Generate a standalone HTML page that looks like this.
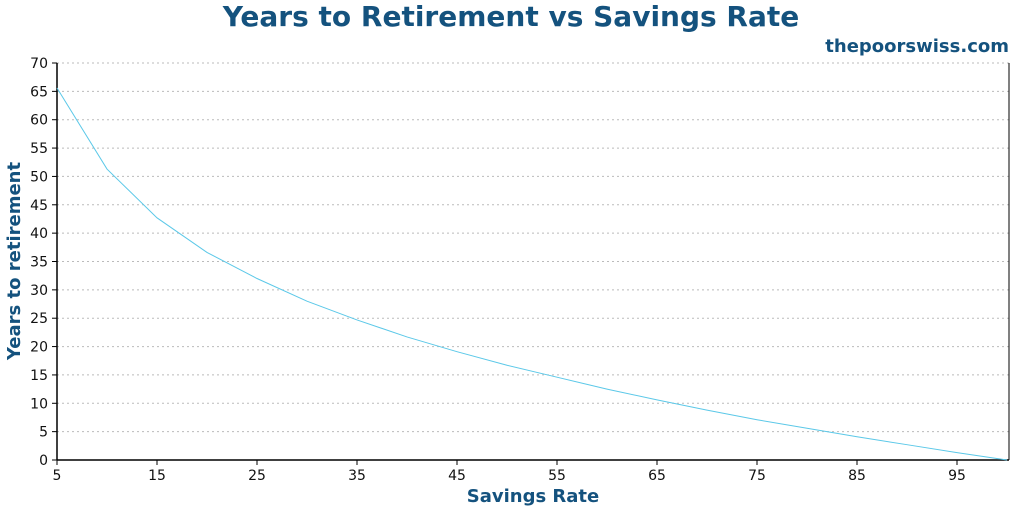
<!DOCTYPE html>
<html><head><meta charset="utf-8"><style>
body{margin:0;background:#fff;}
svg{display:block;font-family:"DejaVu Sans","Liberation Sans",sans-serif;}
</style></head><body>
<svg id="chart" width="1024" height="512">
<text x="511" y="26" text-anchor="middle" font-size="28" font-weight="bold" fill="#14527e">Years to Retirement vs Savings Rate</text>
<text x="1009" y="52" text-anchor="end" font-size="18" font-weight="bold" fill="#14527e">thepoorswiss.com</text>
<text x="533" y="502" text-anchor="middle" font-size="18" font-weight="bold" fill="#14527e">Savings Rate</text>
<text transform="translate(20,261) rotate(-90)" text-anchor="middle" font-size="18" font-weight="bold" fill="#14527e">Years to retirement</text>
<g id="grid"></g><g id="axes"></g><g id="series"></g>
</svg>
<script>
const rates=[5,10,15,20,25,30,35,40,45,50,55,60,65,70,75,80,85,90,95,100];
const years=[65.6,51.3,42.7,36.6,32,28,24.7,21.7,19.1,16.7,14.6,12.5,10.6,8.8,7.1,5.6,4.1,2.7,1.3,0];
const xTicks=[5,15,25,35,45,55,65,75,85,95];
const yTicks=[0,5,10,15,20,25,30,35,40,45,50,55,60,65,70];
const NS="http://www.w3.org/2000/svg";
const L=57,R=1007,T=63,B=460;
const xs=v=>L+(v-5)/95*(R-L);
const ys=v=>B-v/70*(B-T);
function mk(tag,attrs,parent){const e=document.createElementNS(NS,tag);for(const k in attrs)e.setAttribute(k,attrs[k]);parent.appendChild(e);return e;}
const grid=document.getElementById('grid'),axes=document.getElementById('axes'),series=document.getElementById('series');
yTicks.forEach(t=>{
 const y=ys(t);
 if(t>0){const g=mk('line',{x1:L,x2:1009,y1:y,y2:y,stroke:'#bbb','stroke-dasharray':'2,3'},grid);
 
 }
 const tk=mk('line',{x1:L-5,x2:L,y1:y,y2:y,stroke:'#000'},axes);
 
 
 const lb=mk('text',{x:L-9,y:y+5,'text-anchor':'end','font-size':14,fill:'#111'},axes);
 lb.textContent=t;
 
 
});
xTicks.forEach(t=>{
 const x=xs(t);
 const tk=mk('line',{x1:x,x2:x,y1:B,y2:B+5,stroke:'#000'},axes);
 
 
 const lb=mk('text',{x:x,y:B+20,'text-anchor':'middle','font-size':14,fill:'#111'},axes);
 lb.textContent=t;
 
 
});
const ya=mk('line',{x1:L,x2:L,y1:T,y2:B,stroke:'#000','stroke-width':1.5},axes);


const xa=mk('line',{x1:L,x2:1009,y1:B,y2:B,stroke:'#000','stroke-width':1.5},axes);


const rb=mk('line',{x1:1009,x2:1009,y1:T,y2:B,stroke:'#000'},axes);


const ln=mk('polyline',{points:rates.map((r,i)=>xs(r)+','+ys(years[i])).join(' '),fill:'none',stroke:'#5bc8e8','stroke-width':1},series);


</script>
</body></html>
